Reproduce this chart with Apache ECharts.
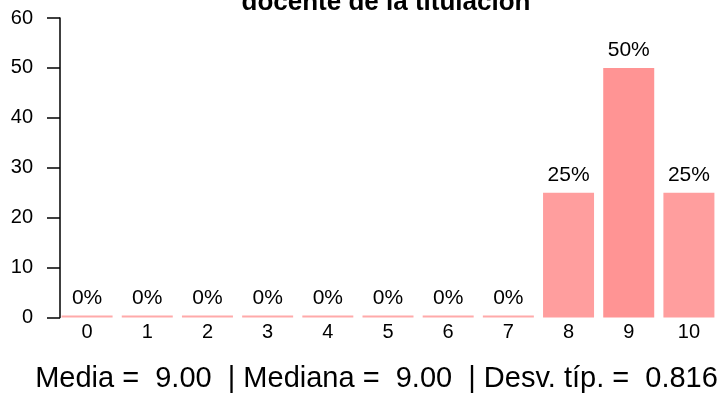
<!DOCTYPE html>
<html>
<head>
<meta charset="utf-8">
<script src="https://cdn.jsdelivr.net/npm/echarts@6/dist/echarts.min.js"></script>
<style>
  html, body { margin: 0; padding: 0; background: #ffffff; }
  #chart { width: 728px; height: 394px; }
</style>
</head>
<body>
<div id="chart"></div>
<script>
// Score categories (0-10) and share of responses in each, in percent
const categories = ['0', '1', '2', '3', '4', '5', '6', '7', '8', '9', '10'];
const percentages = [0, 0, 0, 0, 0, 0, 0, 0, 25, 50, 25];
const barColors = ['#ffaaaa', '#ffaaaa', '#ffaaaa', '#ffaaaa', '#ffaaaa', '#ffaaaa',
                   '#ffaaaa', '#ffaaaa', '#ff9e9e', '#ff9494', '#ff9e9e'];

// Y axis scale
const yMin = 0;
const yMax = 60;
const yStep = 10;

// Summary statistics line
const titleLine = 'docente de la titulación';
const statNames = ['Media', 'Mediana', 'Desv. típ.'];
const statValues = ['9.00', '9.00', '0.816'];

const FONT = '"Liberation Sans", Arial, Helvetica, sans-serif';

const statsText = statNames.map((n, i) => n + ' =  ' + statValues[i]).join('  | ');

const chart = echarts.init(document.getElementById('chart'), null, { renderer: 'canvas' });

chart.setOption({
  animation: false,
  backgroundColor: '#ffffff',
  grid: { left: 57, right: 9, top: 18, bottom: 76.5, containLabel: false },
  xAxis: {
    type: 'category',
    data: categories,
    axisLine: { show: false },
    axisTick: { show: false },
    axisLabel: { color: '#000', fontFamily: FONT, fontSize: 20, margin: 5 }
  },
  yAxis: {
    type: 'value',
    min: yMin,
    max: yMax,
    interval: yStep,
    offset: -3,
    splitLine: { show: false },
    axisLine: { show: true, lineStyle: { color: '#000', width: 1.5 } },
    axisTick: { show: true, length: 13, lineStyle: { color: '#000', width: 1.5 } },
    axisLabel: { color: '#000', fontFamily: FONT, fontSize: 20, margin: 27 }
  },
  series: [{
    type: 'bar',
    data: percentages.map((v, i) => ({ value: v, itemStyle: { color: barColors[i] } })),
    barWidth: 51,
    barMinHeight: 2,
    label: {
      show: true,
      position: 'top',
      distance: 7,
      formatter: p => p.value + '%',
      color: '#000',
      fontFamily: FONT,
      fontSize: 21
    }
  }],
  graphic: [
    {
      type: 'text',
      x: 386,
      y: 3,
      style: {
        text: titleLine,
        fontFamily: FONT,
        fontSize: 26,
        fontWeight: 'bold',
        fill: '#000',
        align: 'center',
        verticalAlign: 'middle'
      }
    },
    {
      type: 'text',
      x: 376.5,
      y: 379,
      style: {
        text: statsText,
        fontFamily: FONT,
        fontSize: 29,
        fill: '#000',
        align: 'center',
        verticalAlign: 'middle'
      }
    }
  ]
});
</script>
</body>
</html>
